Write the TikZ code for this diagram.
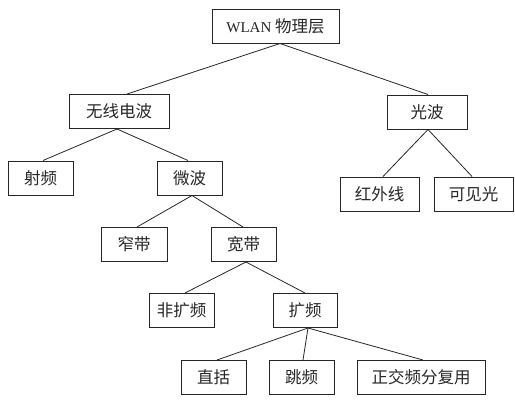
\documentclass[tikz,border=0pt]{standalone}
\usepackage{fontspec}
\setmainfont{Liberation Serif}
\newfontfamily\cjk{Noto Sans CJK SC}
\begin{document}
\begin{tikzpicture}[x=1pt,y=1pt,
  box/.style={draw=black!85, line width=1pt, inner sep=0pt, minimum height=34pt,
    font=\cjk\fontsize{16.5}{19}\selectfont, text=black!85},
  link/.style={draw=black!85, line width=0.8pt}]
\useasboundingbox (0,0) rectangle (515,-405);
\node[box, minimum width=127pt] (wlan) at (275.5,-26) {{\rmfamily\fontsize{15}{19}\selectfont WLAN} 物理层};
\node[box, minimum width=100pt] (wx) at (119,-111.5) {无线电波};
\node[box, minimum width=80pt] (gb) at (427,-112) {光波};
\node[box, minimum width=65pt] (sp) at (40.5,-178) {射频};
\node[box, minimum width=65pt] (wb) at (189.5,-178) {微波};
\node[box, minimum width=79pt] (hw) at (379.5,-194) {红外线};
\node[box, minimum width=79pt] (kj) at (473.5,-194) {可见光};
\node[box, minimum width=66pt] (zd) at (134,-244.5) {窄带};
\node[box, minimum width=65pt] (kd) at (243.5,-244.5) {宽带};
\node[box, minimum width=65pt] (fkp) at (181.5,-310.5) {非扩频};
\node[box, minimum width=64pt] (kp) at (305,-310.5) {扩频};
\node[box, minimum width=65pt] (zk) at (213.5,-377.5) {直括};
\node[box, minimum width=65pt] (tp) at (301.5,-377.5) {跳频};
\node[box, minimum width=128pt] (zj) at (421,-377.5) {正交频分复用};
\draw[link] ([xshift=4.5pt]wlan.south) -- ([xshift=8pt]wx.north);
\draw[link] ([xshift=4.5pt]wlan.south) -- ([xshift=1pt]gb.north);
\draw[link] ([xshift=-2pt]wx.south) -- ([xshift=2.5pt]sp.north);
\draw[link] ([xshift=-2pt]wx.south) -- ([xshift=-1.5pt]wb.north);
\draw[link] ([xshift=1pt]gb.south) -- ([xshift=3.5pt]hw.north);
\draw[link] ([xshift=1pt]gb.south) -- ([xshift=-1.5pt]kj.north);
\draw[link] ([xshift=2.5pt]wb.south) -- ([xshift=3pt]zd.north);
\draw[link] ([xshift=2.5pt]wb.south) -- ([xshift=-0.5pt]kd.north);
\draw[link] ([xshift=2.5pt]kd.south) -- ([xshift=3.5pt]fkp.north);
\draw[link] ([xshift=2.5pt]kd.south) -- (kp.north);
\draw[link] ([xshift=3pt]kp.south) -- ([xshift=3.5pt]zk.north);
\draw[link] ([xshift=3pt]kp.south) -- ([xshift=1.5pt]tp.north);
\draw[link] ([xshift=3pt]kp.south) -- ([xshift=2pt]zj.north);
\end{tikzpicture}
\end{document}
